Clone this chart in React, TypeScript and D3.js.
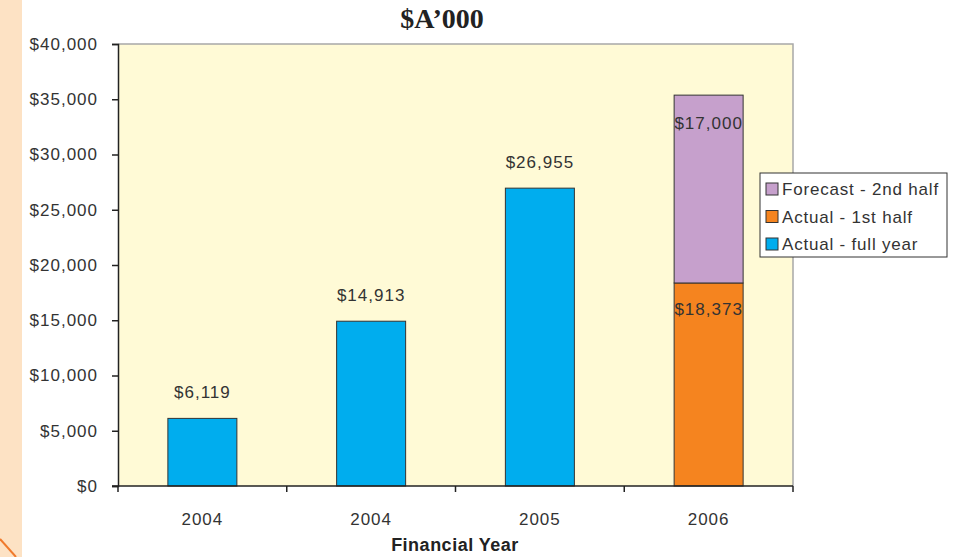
import React, { useEffect, useRef } from "react";
import * as d3 from "d3";

const years = ["2004", "2004", "2005", "2006"];
const fullYear = [6119, 14913, 26955, 0];
const firstHalf = [0, 0, 0, 18373];
const secondHalf = [0, 0, 0, 17000];
const yTicks = [0, 5000, 10000, 15000, 20000, 25000, 30000, 35000, 40000];
const seriesNames = ["Forecast - 2nd half", "Actual - 1st half", "Actual - full year"];
const seriesColors = ["#C6A0CC", "#F5841F", "#00ADEE"];

const SANS = "Liberation Sans, Arial, sans-serif";

const App = () => {
  const svgRef = useRef<SVGSVGElement>(null);

  useEffect(() => {
    const width = 964;
    const height = 557;
    const m = { left: 118, right: 793, top: 44, bottom: 486 };

    const svg = d3.select(svgRef.current).attr("width", width).attr("height", height);
    svg.selectAll("*").remove();

    // decoration at left edge
    svg.append("rect").attr("x", 0).attr("y", 0).attr("width", 22).attr("height", height).attr("fill", "#FDE2C4");
    svg.append("line").attr("x1", 0).attr("y1", 539).attr("x2", 16).attr("y2", 557)
      .attr("stroke", "#F07A2C").attr("stroke-width", 2);

    const x = d3.scaleBand().domain(d3.range(years.length).map(String)).range([m.left, m.right]);
    const y = d3.scaleLinear().domain([0, 40000]).range([m.bottom, m.top]);

    svg.append("rect").attr("x", m.left).attr("y", m.top).attr("width", m.right - m.left)
      .attr("height", m.bottom - m.top).attr("fill", "#FFFAD6");
    svg.append("path").attr("d", `M${m.left},${m.top}H${m.right}V${m.bottom}`)
      .attr("fill", "none").attr("stroke", "#A8A8A8").attr("stroke-width", 1.5);

    const bw = 69;
    const stacks = years.map((_, i) => {
      const a = fullYear[i], b = firstHalf[i], c = secondHalf[i];
      return [
        { v0: 0, v1: a, color: seriesColors[2] },
        { v0: a, v1: a + b, color: seriesColors[1] },
        { v0: a + b, v1: a + b + c, color: seriesColors[0] },
      ].filter((s) => s.v1 > s.v0);
    });

    stacks.forEach((segs, i) => {
      const cx = x(String(i))! + x.bandwidth() / 2;
      segs.forEach((s) => {
        svg.append("rect").attr("x", cx - bw / 2).attr("y", y(s.v1)).attr("width", bw)
          .attr("height", y(s.v0) - y(s.v1)).attr("fill", s.color)
          .attr("stroke", "#333").attr("stroke-width", 1);
      });
    });

    const fmt = (v: number) => "$" + d3.format(",")(v);
    const lbl = (t: string, lx: number, ly: number) =>
      svg.append("text").attr("x", lx).attr("y", ly).attr("text-anchor", "middle")
        .attr("font-family", SANS).attr("font-size", 17).attr("letter-spacing", 1)
        .attr("fill", "#333").text(t);

    years.forEach((_, i) => {
      const cx = x(String(i))! + x.bandwidth() / 2;
      if (fullYear[i] > 0) lbl(fmt(fullYear[i]), cx, y(fullYear[i]) - 20);
    });
    const c3 = x("3")! + x.bandwidth() / 2;
    lbl(fmt(secondHalf[3]), c3, y(firstHalf[3] + secondHalf[3]) + 34);
    lbl(fmt(firstHalf[3]), c3, y(firstHalf[3]) + 32);

    // y axis
    const yAxis = svg.append("g").attr("transform", `translate(${m.left},0)`)
      .call(d3.axisLeft(y).tickValues(yTicks).tickSize(6).tickPadding(14).tickFormat((d) => fmt(+d)));
    yAxis.select(".domain").attr("stroke", "#222").attr("stroke-width", 1.5);
    yAxis.selectAll(".tick line").attr("stroke", "#222").attr("stroke-width", 1.5);
    yAxis.selectAll("text").attr("font-family", SANS).attr("font-size", 17)
      .attr("letter-spacing", 1).attr("fill", "#333");

    // x axis
    const xg = svg.append("g").attr("transform", `translate(0,${m.bottom})`);
    xg.append("line").attr("x1", m.left - 6).attr("x2", m.right).attr("stroke", "#222").attr("stroke-width", 1.5);
    d3.range(years.length + 1).forEach((k) => {
      const tx = m.left + k * x.step();
      xg.append("line").attr("x1", tx).attr("x2", tx).attr("y1", 0).attr("y2", 6)
        .attr("stroke", "#222").attr("stroke-width", 1.5);
    });
    years.forEach((yr, i) => {
      xg.append("text").attr("x", x(String(i))! + x.bandwidth() / 2).attr("y", 39)
        .attr("text-anchor", "middle").attr("font-family", SANS).attr("letter-spacing", 1)
        .attr("font-size", 17).attr("fill", "#333").text(yr);
    });

    svg.append("text").attr("x", 455).attr("y", 551).attr("text-anchor", "middle")
      .attr("font-family", SANS).attr("font-size", 18).attr("letter-spacing", 0.5)
      .attr("font-weight", "bold").attr("fill", "#222").text("Financial Year");

    svg.append("text").attr("x", 442).attr("y", 28).attr("text-anchor", "middle")
      .attr("font-family", "Liberation Serif, Times New Roman, serif").attr("font-size", 28)
      .attr("font-weight", "bold").attr("fill", "#222").text("$A\u2019000");

    // legend
    const lg = svg.append("g").attr("transform", "translate(760,173)");
    lg.append("rect").attr("width", 187).attr("height", 84).attr("fill", "#fff")
      .attr("stroke", "#333").attr("stroke-width", 1);
    seriesNames.forEach((n, i) => {
      const ly = 16 + i * 27.5;
      lg.append("rect").attr("x", 6).attr("y", ly - 6).attr("width", 12).attr("height", 12)
        .attr("fill", seriesColors[i]).attr("stroke", "#333").attr("stroke-width", 1);
      lg.append("text").attr("x", 22).attr("y", ly + 6).attr("font-family", SANS)
        .attr("font-size", 17).attr("letter-spacing", 0.8).attr("fill", "#333").text(n);
    });
  }, []);

  return <svg ref={svgRef} style={{ position: "absolute", left: 0, top: 0, display: "block" }}></svg>;
};

export default App;
